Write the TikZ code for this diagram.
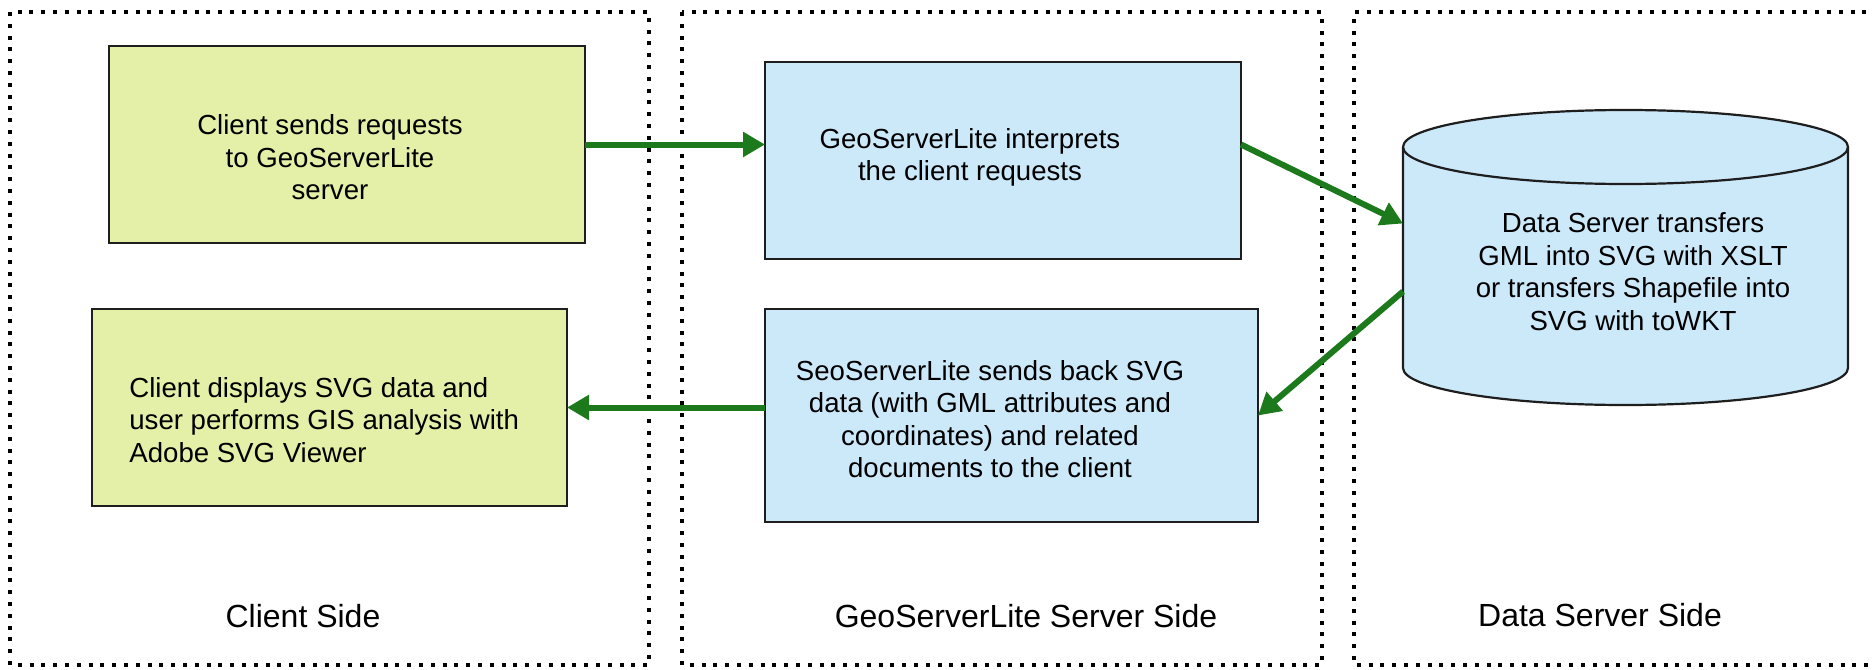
\documentclass[tikz,border=0pt]{standalone}
\usepackage{fontspec}
\setmainfont{Liberation Sans}
\usetikzlibrary{arrows.meta,calc}
\definecolor{boxgreen}{RGB}{228,239,168}
\definecolor{boxblue}{RGB}{204,233,250}
\definecolor{flowgreen}{RGB}{28,122,28}
\definecolor{edgegray}{RGB}{30,30,30}
\begin{document}
\begin{tikzpicture}[x=0.5pt,y=-0.5pt,
  panel/.style={line width=2pt, dash pattern=on 2pt off 3.9pt},
  stepbox/.style={draw=edgegray, line width=1.1pt, inner sep=0pt, outer sep=0pt},
  greenbox/.style={stepbox, fill=boxgreen},
  bluebox/.style={stepbox, fill=boxblue},
  boxtext/.style={font=\fontsize{13.8}{16.25}\selectfont, align=center, inner sep=0pt},
  sidelabel/.style={font=\fontsize{16}{19}\selectfont, inner sep=0pt},
  flow/.style={draw=flowgreen, line width=3pt, -{Triangle[length=11pt,width=12pt]}}
]
\useasboundingbox (0,0) rectangle (1873,669);
\clip (0,0) rectangle (1873,669);
\fill[white] (0,0) rectangle (1873,669);

% dotted frames of the three sides
\draw[panel] (10,12) rectangle (649,665);
\draw[panel] (682,12) rectangle (1322,665);
\draw[panel] (1890,12) -- (1354,12) -- (1354,665) -- (1890,665);

% process boxes
\node[greenbox, minimum width=238pt, minimum height=98.5pt] (b1) at (347,144.5) {};
\node[greenbox, minimum width=237.5pt, minimum height=98.5pt] (b2) at (329.5,407.5) {};
\node[bluebox, minimum width=238pt, minimum height=98.5pt] (b3) at (1003,160.5) {};
\node[bluebox, minimum width=246.5pt, minimum height=106.5pt] (b4) at (1011.5,415.5) {};

% data store drawn as a cylinder around its body node
\node[inner sep=0pt, outer sep=0pt, minimum width=222.5pt, minimum height=110.5pt] (db) at (1625.5,257.5) {};
\draw[stepbox, fill=boxblue] (db.north west) -- (db.south west)
  arc[start angle=180, end angle=360, x radius=111.25pt, y radius=18.5pt]
  -- (db.north east)
  arc[start angle=0, end angle=180, x radius=111.25pt, y radius=18.5pt] -- cycle;
\draw[stepbox] (db.north west)
  arc[start angle=180, end angle=360, x radius=111.25pt, y radius=18.5pt];

% texts
\node[boxtext] (t1) at (330,157.5) {Client sends requests\\to GeoServerLite\\server};
\node[boxtext] (t3) at (970,157.5) {GeoServerLite interprets\\the client requests};
\node[boxtext] (tdb) at (1633,271.5) {Data Server transfers\\GML into SVG with XSLT\\or transfers Shapefile into\\SVG with toWKT};
\node[boxtext] (t4) at (990,419) {SeoServerLite sends back SVG\\data (with GML attributes and\\coordinates) and related\\documents to the client};
\node[boxtext, align=left, anchor=west] (t2) at (129,420) {Client displays SVG data and\\user performs GIS analysis with\\Adobe SVG Viewer};

\node[sidelabel] (l1) at (303,616) {Client Side};
\node[sidelabel] (l2) at (1026,616) {GeoServerLite Server Side};
\node[sidelabel] (l3) at (1600,615) {Data Server Side};

% message flow
\draw[flow] (b1.east) -- (b1.east -| b3.west);
\draw[flow] (b1.east -| b3.east) -- ([yshift=17pt]db.west);
\draw[flow] ([yshift=-17pt]db.west) -- (b4.east);
\draw[flow] (b4.west |- b2.east) -- (b2.east);
\end{tikzpicture}
\end{document}
